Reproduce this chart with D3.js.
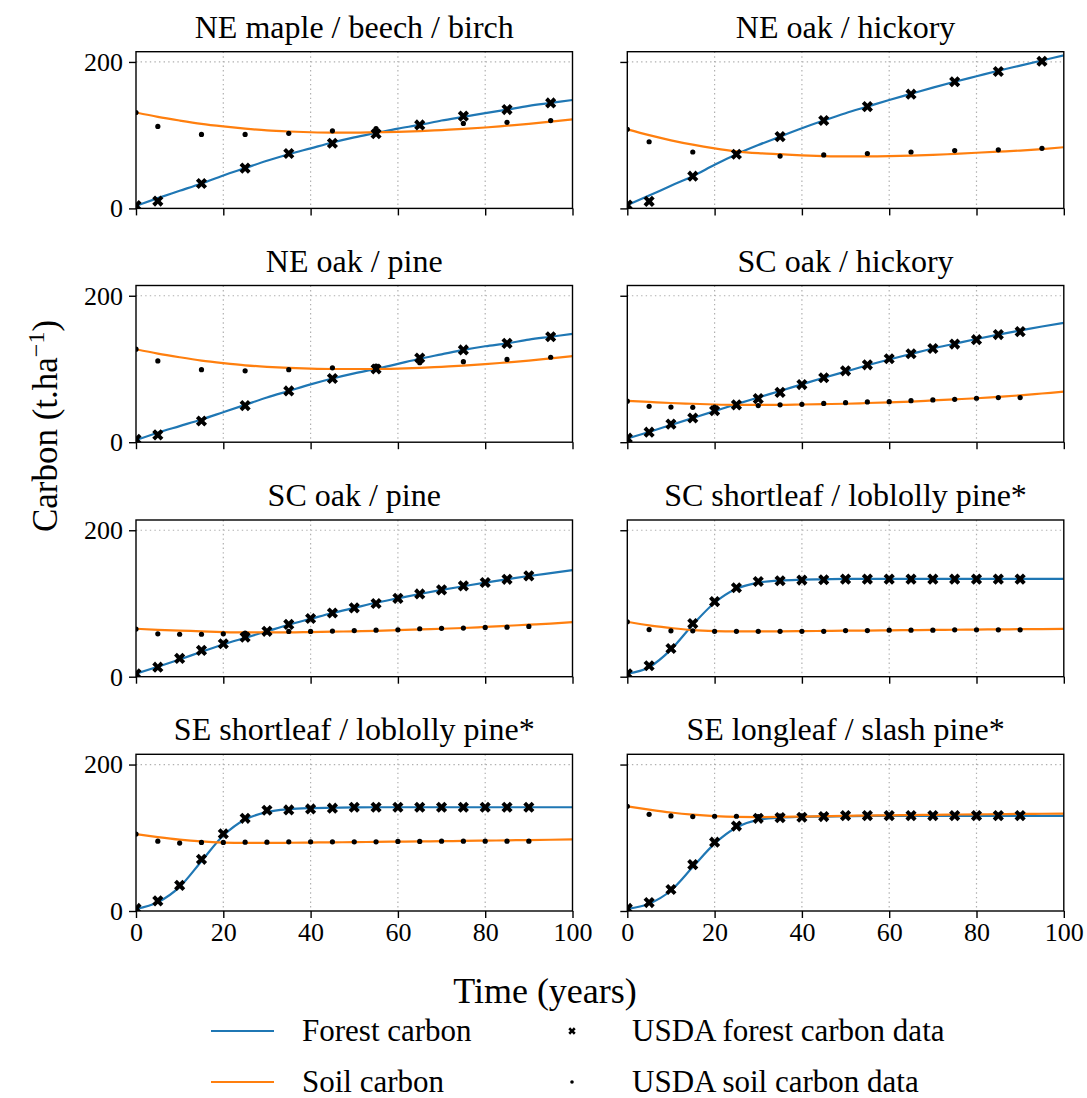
<!DOCTYPE html>
<html>
<head>
<meta charset="utf-8">
<script src="https://cdn.jsdelivr.net/npm/d3@7"></script>
<style>
  body { margin: 0; background: #fff; }
  svg text { font-family: "Liberation Serif", "Times New Roman", serif; fill: #000; }
</style>
</head>
<body>
<svg id="chart" width="1087" height="1098"></svg>
<script>
// Forest types, one panel each (row-major, two columns)
const titles = [
  "NE maple / beech / birch", "NE oak / hickory",
  "NE oak / pine", "SC oak / hickory",
  "SC oak / pine", "SC shortleaf / loblolly pine*",
  "SE shortleaf / loblolly pine*", "SE longleaf / slash pine*"
];

// Years at which the fitted model curves are sampled
const fitYears = [0, 5, 10, 15, 20, 25, 30, 35, 40, 45, 50, 55, 60, 65, 70, 75, 80, 85, 90, 95, 100];

// Years of the USDA tabulated values (north-east tables vs southern tables)
const usdaYearsNE = [0, 5, 15, 25, 35, 45, 55, 65, 75, 85, 95];
const usdaYearsSouth = [0, 5, 10, 15, 20, 25, 30, 35, 40, 45, 50, 55, 60, 65, 70, 75, 80, 85, 90];
const usdaYears = [usdaYearsNE, usdaYearsNE, usdaYearsNE, usdaYearsSouth,
                   usdaYearsSouth, usdaYearsSouth, usdaYearsSouth, usdaYearsSouth];

// Fitted forest carbon (t/ha) at fitYears
const forestFit = [
  [3.5, 14, 24, 34, 45, 55, 65, 74, 82, 90, 97, 103, 109, 114, 120, 125, 130, 135, 140, 144, 148],
  [4.5, 17.5, 31, 44, 59.5, 74, 86.5, 98, 109.5, 120, 130, 139, 148, 156.5, 165, 173, 180.5, 188, 195, 202, 209],
  [3, 13, 22, 31, 41, 51, 61, 70, 79, 87, 94, 100, 107, 114, 120, 126, 131, 135, 140, 144, 148],
  [5, 14, 23.5, 33, 42.5, 52, 61, 70, 79, 88, 96.5, 105, 113, 120.5, 128, 134.5, 141, 147, 152.5, 158, 163],
  [4, 13.5, 23.5, 34, 44, 53, 62, 71, 79, 87, 94, 101, 107, 113, 118.5, 123.5, 128.5, 133, 137.5, 141.5, 145.5],
  [4, 13, 37, 71, 101, 120, 128.5, 131.5, 132.5, 133, 133.5, 133.5, 133.5, 133.5, 133.5, 133.5, 133.5, 133.5, 133.5, 133.5, 133.5],
  [3, 12, 33, 68, 103, 125, 135, 139, 140.5, 141, 141.5, 141.7, 141.7, 141.7, 141.7, 141.7, 141.7, 141.7, 141.7, 141.7, 141.7],
  [3, 10, 28, 60, 92, 114, 124.5, 127.5, 128.5, 129, 129.5, 130, 130, 130, 130, 130, 130, 130, 130, 130, 130]
];

// Fitted soil carbon (t/ha) at fitYears
const soilFit = [
  [131, 125, 120, 115.5, 112, 109, 106.5, 105, 104, 103.5, 103.5, 104, 104.5, 105.5, 107, 108.5, 110.5, 113, 115.5, 118.5, 121.5],
  [108, 100, 93, 87, 82, 78, 75.5, 74, 72.5, 71.5, 71, 71, 71.3, 72, 73, 74.5, 76, 77.5, 79, 81, 83.5],
  [127, 121, 116, 111.5, 108, 105, 103, 101.5, 100.5, 100, 100, 100, 100.5, 101.5, 103, 104.5, 106.5, 109, 111.5, 114.5, 117.5],
  [56.5, 55, 53.5, 52.5, 51.5, 51, 51, 51, 51.5, 52, 52.5, 53.5, 54.5, 55.5, 57, 58.5, 60, 62, 64, 66.5, 69],
  [65.5, 64, 63, 62, 61, 60.5, 60.5, 60.5, 61, 61.5, 62, 62.5, 63.5, 64.5, 65.5, 66.5, 68, 69.5, 71, 72.5, 74.5],
  [75, 70, 66.5, 63.5, 62.3, 62, 62, 62, 62.2, 62.5, 62.8, 63, 63.3, 63.6, 63.9, 64.1, 64.4, 64.6, 64.9, 65.1, 65.3],
  [105, 101, 97.5, 95, 93.5, 93, 93, 93.2, 93.5, 93.8, 94, 94.4, 94.7, 95, 95.4, 95.7, 96.1, 96.5, 96.9, 97.3, 97.7],
  [143, 138.5, 134.5, 131.5, 129.5, 128.5, 128.3, 128.5, 129, 129.5, 130, 130.3, 130.7, 131, 131.4, 131.7, 132, 132.3, 132.6, 132.8, 133]
];

// USDA forest carbon table values (t/ha) at usdaYears
const forestData = [
  [4, 10, 34, 55, 75, 89, 102, 114, 126, 135, 144],
  [4.5, 9.6, 44, 74, 98, 120, 139, 156, 173, 187, 201],
  [4, 10, 29, 50, 70, 87, 100, 115, 126, 135, 144],
  [5.5, 13.7, 24.7, 33, 43, 51, 59.5, 68, 78.7, 88, 97.5, 105.7, 114, 120.8, 128, 134, 140, 147, 151],
  [4, 13, 25, 36, 45, 54, 62, 71.4, 79.5, 87, 94, 100, 107, 113, 118.6, 124, 128.6, 133, 137.7],
  [4, 15, 38.5, 72.6, 102.5, 121.5, 130, 131, 132, 132.4, 133.3, 133.3, 133.3, 133.3, 133.3, 133.3, 133.3, 133.3, 133.3],
  [3.5, 13.8, 35, 70.6, 105.5, 126.6, 137.6, 138, 139.4, 140.4, 141.7, 141.7, 141.7, 141.7, 141.7, 141.7, 141.7, 141.7, 141.7],
  [3.5, 11.5, 29.4, 63.3, 94, 116, 126.6, 127.5, 128, 129, 130.3, 130.3, 130.3, 130.3, 130.3, 130.3, 130.3, 130.3, 130.3]
];

// USDA soil carbon table values (t/ha) at usdaYears
const soilData = [
  [131, 112, 101, 101, 102.5, 106, 109, 113, 116, 117.5, 120],
  [108, 91, 77, 74, 71.5, 73, 75, 77, 79, 80, 82],
  [127, 111, 99, 97.5, 99, 101.6, 104, 108.5, 110, 113, 116],
  [56, 49, 48, 47.6, 48, 50.8, 50, 51, 51.7, 53, 54, 55, 55.4, 56.7, 57.7, 58.6, 60, 61, 61],
  [65, 58.6, 58, 58, 58.6, 59.5, 61, 61.8, 61.8, 62.3, 63, 63.6, 64, 65.5, 66, 66.4, 67.3, 67.7, 68.6],
  [75, 64.4, 62.6, 62.6, 62, 62, 62, 62, 62, 62, 63, 63, 63.5, 63.5, 63.5, 64, 64, 64, 64],
  [105, 95.4, 92.7, 93.6, 93.6, 94, 94, 94.5, 94.5, 94.5, 94.5, 94.5, 95, 95, 95.4, 95.4, 95.4, 95.4, 95.4],
  [143, 132, 129.8, 129, 129.4, 129.4, 129, 129.5, 130, 130, 130.3, 130.5, 130.5, 130.5, 130.7, 130.7, 130.8, 130.8, 131]
];

const xTicks = [0, 20, 40, 60, 80, 100];
const yTicks = [0, 200];
const xDomain = [0, 100];
const yDomain = [0, 214];

const legendLabels = ["Forest carbon", "Soil carbon", "USDA forest carbon data", "USDA soil carbon data"];

const blue = "#1f77b4", orange = "#ff7f0e";

// ---- layout ----
const colLeft = [136, 627.3];
const rowTop = [51.7, 285.5, 520, 754.3];
const panelW = 436.5, panelH = 156.7;

const svg = d3.select("#chart");
const x = d3.scaleLinear().domain(xDomain).range([0, panelW]);
const y = d3.scaleLinear().domain(yDomain).range([panelH, 0]);

const line = d3.line()
  .x(d => x(d[0]))
  .y(d => y(d[1]))
  .curve(d3.curveMonotoneX);

const xMarker = d3.symbol().type(d3.symbolCross).size(78);

titles.forEach((title, i) => {
  const col = i % 2, row = Math.floor(i / 2);
  const g = svg.append("g").attr("transform", `translate(${colLeft[col]},${rowTop[row]})`);

  const clipId = "clip" + i;
  g.append("clipPath").attr("id", clipId)
    .append("rect").attr("width", panelW).attr("height", panelH);

  // dotted grid
  const grid = g.append("g").attr("stroke", "#b0b0b0").attr("stroke-width", 1.2)
    .attr("stroke-dasharray", "1.4,3.2");
  grid.selectAll("line.v").data(xTicks.filter(t => t > xDomain[0] && t < xDomain[1]))
    .join("line").attr("class", "v")
    .attr("x1", d => x(d)).attr("x2", d => x(d)).attr("y1", 0).attr("y2", panelH);
  grid.selectAll("line.h").data(yTicks.filter(t => t > yDomain[0]))
    .join("line").attr("class", "h")
    .attr("x1", 0).attr("x2", panelW).attr("y1", d => y(d)).attr("y2", d => y(d));

  const plot = g.append("g").attr("clip-path", `url(#${clipId})`);

  // fitted curves
  plot.append("path")
    .datum(fitYears.map((t, k) => [t, forestFit[i][k]]))
    .attr("d", line).attr("fill", "none").attr("stroke", blue).attr("stroke-width", 2.2);
  plot.append("path")
    .datum(fitYears.map((t, k) => [t, soilFit[i][k]]))
    .attr("d", line).attr("fill", "none").attr("stroke", orange).attr("stroke-width", 2.2);

  // USDA data points
  const years = usdaYears[i];
  plot.selectAll("path.fx").data(years.map((t, k) => [t, forestData[i][k]]))
    .join("path").attr("class", "fx")
    .attr("d", xMarker)
    .attr("transform", d => `translate(${x(d[0])},${y(d[1])}) rotate(45)`)
    .attr("fill", "#000");
  plot.selectAll("circle.sd").data(years.map((t, k) => [t, soilData[i][k]]))
    .join("circle").attr("class", "sd")
    .attr("cx", d => x(d[0])).attr("cy", d => y(d[1])).attr("r", 2.6)
    .attr("fill", "#000");

  // axes
  const xAxis = d3.axisBottom(x).tickValues(xTicks).tickSize(7).tickPadding(5)
    .tickFormat(row === 3 ? d3.format("d") : () => "");
  const gx = g.append("g").attr("transform", `translate(0,${panelH})`).call(xAxis);
  const yAxis = d3.axisLeft(y).tickValues(yTicks).tickSize(7).tickPadding(6)
    .tickFormat(col === 0 ? d3.format("d") : () => "");
  const gy = g.append("g").call(yAxis);
  [gx, gy].forEach(a => {
    a.select(".domain").remove();
    a.selectAll(".tick line").attr("stroke", "#000").attr("stroke-width", 1.4);
    a.selectAll(".tick text").attr("font-size", 26)
      .style("font-family", '"Liberation Serif", "Times New Roman", serif').attr("fill", "#000");
  });

  // frame
  g.append("rect").attr("width", panelW).attr("height", panelH)
    .attr("fill", "none").attr("stroke", "#000").attr("stroke-width", 1.4);

  // title
  g.append("text").attr("x", panelW / 2).attr("y", -14)
    .attr("text-anchor", "middle").attr("font-size", 32).text(title);
});

// shared axis labels
const yl = svg.append("text")
  .attr("transform", "translate(57,426) rotate(-90)")
  .attr("text-anchor", "middle").attr("font-size", 35);
yl.append("tspan").text("Carbon (t.ha");
yl.append("tspan").attr("dy", -13).attr("font-size", 24).text("\u22121");
yl.append("tspan").attr("dy", 13).text(")");

svg.append("text").attr("x", 545).attr("y", 1003)
  .attr("text-anchor", "middle").attr("font-size", 36).text("Time (years)");

// legend
const leg = svg.append("g");
const rowY = [1031, 1082];
leg.append("line").attr("x1", 211).attr("x2", 274).attr("y1", rowY[0]).attr("y2", rowY[0])
  .attr("stroke", blue).attr("stroke-width", 2.2);
leg.append("line").attr("x1", 211).attr("x2", 274).attr("y1", rowY[1]).attr("y2", rowY[1])
  .attr("stroke", orange).attr("stroke-width", 2.2);
leg.append("path").attr("d", d3.symbol().type(d3.symbolCross).size(34))
  .attr("transform", `translate(572,${rowY[0]}) rotate(45)`).attr("fill", "#000");
leg.append("circle").attr("cx", 572).attr("cy", rowY[1]).attr("r", 1.8).attr("fill", "#000");
const legText = [[302, rowY[0]], [302, rowY[1]], [632, rowY[0]], [632, rowY[1]]];
legendLabels.forEach((lab, k) => {
  leg.append("text").attr("x", legText[k][0]).attr("y", legText[k][1] + 10)
    .attr("font-size", 31).text(lab);
});
</script>
</body>
</html>
